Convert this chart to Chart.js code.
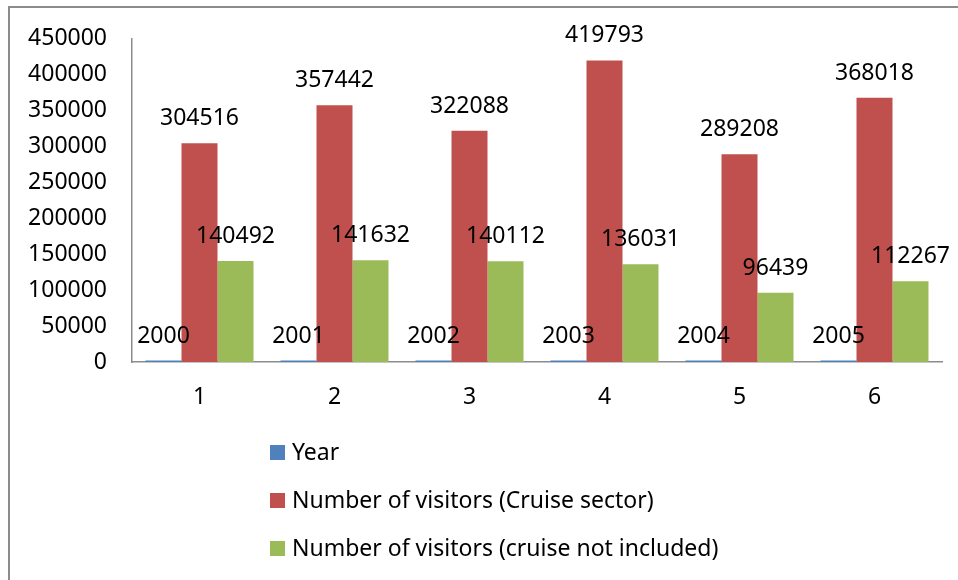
<!DOCTYPE html>
<html>
<head>
<meta charset="utf-8">
<title>Visitors by year</title>
<script src="https://cdn.jsdelivr.net/npm/chart.js@4/dist/chart.umd.min.js"></script>
<style>
  html, body { margin: 0; padding: 0; background: #fff; }
  #wrap { width: 958px; height: 580px; position: relative; }
</style>
</head>
<body>
<div id="wrap"><canvas id="chart" width="958" height="580"></canvas></div>
<script>
  const categories = ['1', '2', '3', '4', '5', '6'];
  const years = [2000, 2001, 2002, 2003, 2004, 2005];
  const cruiseVisitors = [304516, 357442, 322088, 419793, 289208, 368018];
  const otherVisitors = [140492, 141632, 140112, 136031, 96439, 112267];

  const FONT = '"Noto Sans", "Open Sans", sans-serif';
  const FONT_SIZE = 23;

  // chart frame, like the Excel chart border
  const framePlugin = {
    id: 'frame',
    beforeDraw(chart) {
      const ctx = chart.ctx;
      ctx.save();
      ctx.strokeStyle = '#8c8c8c';
      ctx.lineWidth = 2;
      ctx.strokeRect(9, 7, 1000, 1000);
      ctx.restore();
    }
  };

  // value labels above every bar
  const valueLabels = {
    id: 'valueLabels',
    afterDatasetsDraw(chart) {
      const ctx = chart.ctx;
      ctx.save();
      ctx.font = FONT_SIZE + 'px ' + FONT;
      ctx.fillStyle = '#000';
      ctx.textAlign = 'center';
      ctx.textBaseline = 'alphabetic';
      chart.data.datasets.forEach((ds, i) => {
        chart.getDatasetMeta(i).data.forEach((bar, j) => {
          ctx.fillText(String(ds.data[j]), bar.x, bar.y - 18);
        });
      });
      ctx.restore();
    }
  };

  // vertical legend under the plot
  const stackedLegend = {
    id: 'stackedLegend',
    afterDraw(chart) {
      const ctx = chart.ctx;
      ctx.save();
      ctx.font = FONT_SIZE + 'px ' + FONT;
      ctx.textBaseline = 'middle';
      ctx.textAlign = 'left';
      chart.data.datasets.forEach((ds, i) => {
        const cy = 453 + i * 48;
        ctx.fillStyle = ds.backgroundColor;
        ctx.fillRect(270, cy - 8, 15, 15);
        ctx.fillStyle = '#000';
        ctx.fillText(ds.label, 292, cy);
      });
      ctx.restore();
    }
  };

  new Chart(document.getElementById('chart'), {
    type: 'bar',
    data: {
      labels: categories,
      datasets: [
        { label: 'Year', data: years, backgroundColor: '#4F81BD' },
        { label: 'Number of visitors (Cruise sector)', data: cruiseVisitors, backgroundColor: '#C0504D' },
        { label: 'Number of visitors (cruise not included)', data: otherVisitors, backgroundColor: '#9BBB59' }
      ]
    },
    options: {
      responsive: false,
      animation: false,
      datasets: { bar: { categoryPercentage: 0.8, barPercentage: 1.0 } },
      layout: { padding: { left: 0, top: 36, right: 16, bottom: 158 } },
      plugins: {
        legend: { display: false },
        tooltip: { enabled: false }
      },
      scales: {
        x: {
          grid: { display: false, drawTicks: false },
          border: { display: true, color: '#8c8c8c', width: 1.5 },
          ticks: { color: '#000', padding: 22, font: { family: FONT, size: FONT_SIZE } },
          afterFit(scale) { scale.height = 60; }
        },
        y: {
          min: 0,
          max: 450000,
          grid: { display: false, drawTicks: false },
          border: { display: true, color: '#8c8c8c', width: 1.5 },
          ticks: {
            stepSize: 50000,
            color: '#000',
            padding: 25,
            font: { family: FONT, size: FONT_SIZE },
            callback: (v) => String(v)
          },
          afterFit(scale) { scale.width = 132; }
        }
      }
    },
    plugins: [framePlugin, valueLabels, stackedLegend]
  });
</script>
</body>
</html>
